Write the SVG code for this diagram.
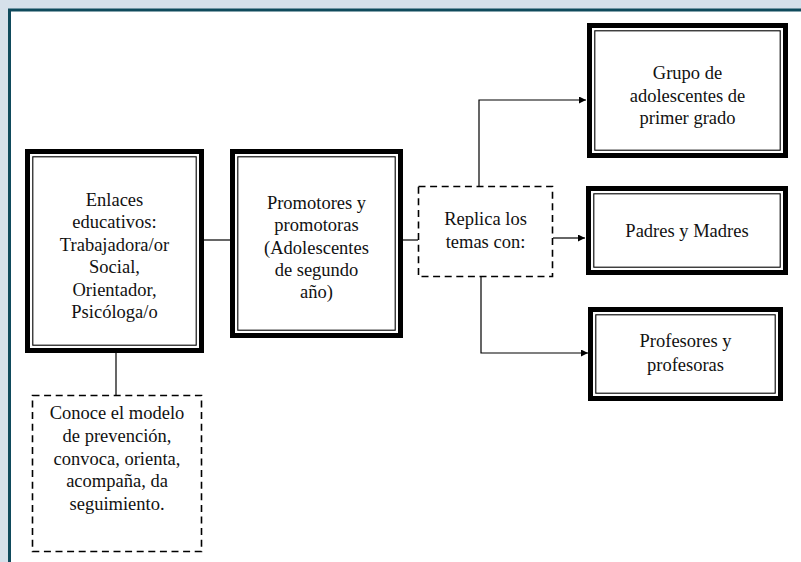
<svg xmlns="http://www.w3.org/2000/svg" width="801" height="562" viewBox="0 0 801 562">
<style>
.thick{fill:#fff;stroke:#000;stroke-width:5}
.thin{fill:none;stroke:#000;stroke-width:1.1}
.dash{fill:#fff;stroke:#000;stroke-width:1.6;stroke-dasharray:7 4.6}
.ln{fill:none;stroke:#000;stroke-width:1.2}
text{font-family:"Liberation Serif","Times New Roman",serif;font-size:18.5px;fill:#111;text-anchor:middle}
</style>
<defs>
<marker id="ah" viewBox="0 0 10 10" refX="10" refY="5" markerWidth="7" markerHeight="7" markerUnits="userSpaceOnUse" orient="auto">
<path d="M0,0 L10,5 L0,10 Z" fill="#000"/>
</marker>
</defs>
<rect x="0" y="0" width="801" height="562" fill="#d6e0ea"/>
<rect x="9.5" y="10" width="830" height="600" fill="#fff" stroke="#0f4a5c" stroke-width="3"/>

<g id="connectors">
<line class="ln" x1="204" y1="240" x2="230" y2="240"/>
<line class="ln" x1="403" y1="240" x2="418" y2="240"/>
<polyline class="ln" points="479,186 479,100 586,100" marker-end="url(#ah)"/>
<line class="ln" x1="553" y1="238" x2="585" y2="238" marker-end="url(#ah)"/>
<polyline class="ln" points="481,277 481,353 588,353" marker-end="url(#ah)"/>
<line class="ln" x1="116" y1="353" x2="116" y2="395"/>
</g>

<g id="enlaces">
<rect class="thick" x="27.5" y="151.5" width="174" height="199"/>
<rect class="thin" x="32.8" y="156.8" width="163.4" height="188.4"/>
<text x="114.5" y="206">Enlaces</text>
<text x="114.5" y="228.4">educativos:</text>
<text x="114.5" y="250.8">Trabajadora/or</text>
<text x="114.5" y="273.2">Social,</text>
<text x="114.5" y="295.6">Orientador,</text>
<text x="114.5" y="318">Psicóloga/o</text>
</g>

<g id="promotores">
<rect class="thick" x="232.5" y="151.5" width="168" height="184"/>
<rect class="thin" x="237.8" y="156.8" width="157.4" height="173.4"/>
<text x="316.5" y="209">Promotores y</text>
<text x="316.5" y="231.3">promotoras</text>
<text x="316.5" y="253.6">(Adolescentes</text>
<text x="316.5" y="275.9">de segundo</text>
<text x="316.5" y="298">año)</text>
</g>

<g id="replica">
<rect class="dash" x="418.5" y="186.5" width="134" height="90"/>
<text x="485.5" y="225">Replica los</text>
<text x="485.5" y="248">temas con:</text>
</g>

<g id="grupo">
<rect class="thick" x="589.5" y="25.5" width="196" height="130"/>
<rect class="thin" x="594.8" y="30.8" width="185.4" height="119.4"/>
<text x="687.5" y="79">Grupo de</text>
<text x="687.5" y="101.5">adolescentes de</text>
<text x="687.5" y="124">primer grado</text>
</g>

<g id="padres">
<rect class="thick" x="588.5" y="188.5" width="197" height="84"/>
<rect class="thin" x="593.8" y="193.8" width="186.4" height="73.4"/>
<text x="687" y="237">Padres y Madres</text>
</g>

<g id="profesores">
<rect class="thick" x="590.5" y="309.5" width="190" height="89"/>
<rect class="thin" x="595.8" y="314.8" width="179.4" height="78.4"/>
<text x="685.5" y="347">Profesores y</text>
<text x="685.5" y="371">profesoras</text>
</g>

<g id="conoce">
<rect class="dash" x="32.5" y="395.5" width="169" height="156"/>
<text x="117" y="419">Conoce el modelo</text>
<text x="117" y="441.8">de prevención,</text>
<text x="117" y="464.6">convoca, orienta,</text>
<text x="117" y="487.4">acompaña, da</text>
<text x="117" y="510">seguimiento.</text>
</g>
</svg>
